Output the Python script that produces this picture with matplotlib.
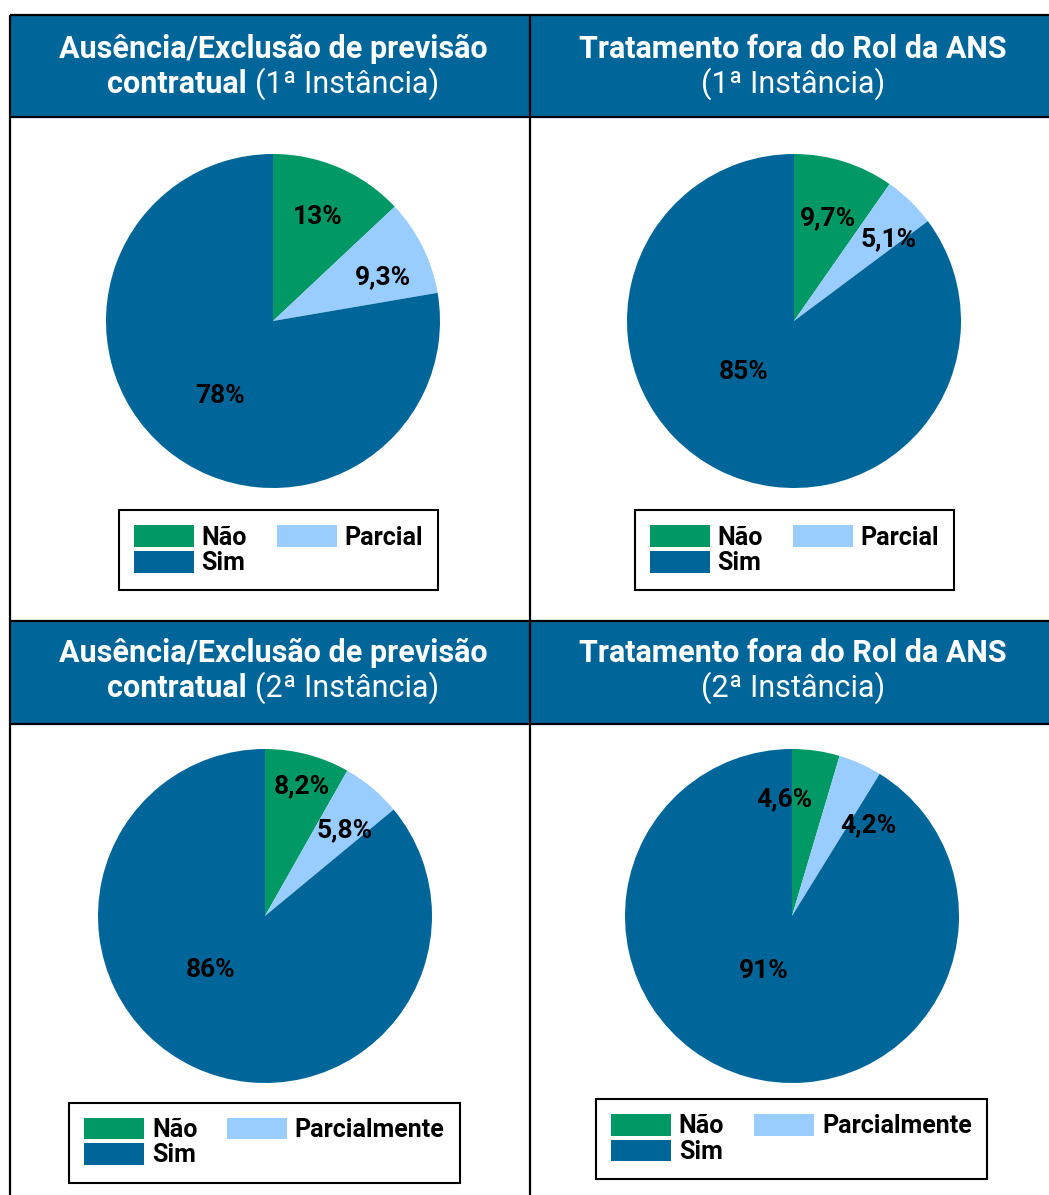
import matplotlib
matplotlib.use("Agg")
import matplotlib.pyplot as plt
from matplotlib.patches import Rectangle
import numpy as np

W, H = 1049, 1195
DPI = 100

# ---------------- data ----------------
legend_first = ["Não", "Parcial", "Sim"]
legend_second = ["Não", "Parcialmente", "Sim"]

tl_values = [13.0, 9.3, 77.7]
tl_labels = ["13%", "9,3%", "78%"]
tr_values = [9.7, 5.1, 85.2]
tr_labels = ["9,7%", "5,1%", "85%"]
bl_values = [8.2, 5.8, 86.0]
bl_labels = ["8,2%", "5,8%", "86%"]
br_values = [4.6, 4.2, 91.2]
br_labels = ["4,6%", "4,2%", "91%"]

title_line1 = ["Ausência/Exclusão de previsão", "Tratamento fora do Rol da ANS",
               "Ausência/Exclusão de previsão", "Tratamento fora do Rol da ANS"]
title_line2_bold = ["contratual", "", "contratual", ""]
title_line2_regular = ["(1ª Instância)", "(1ª Instância)", "(2ª Instância)", "(2ª Instância)"]

colors = ["#009966", "#99CCFF", "#006699"]
HEADER = "#006699"
FONT = "Roboto"

# ---------------- layout (pixels) ----------------
panels = [
    dict(values=tl_values, labels=tl_labels, legend=legend_first,
         center=(273, 321), radius=167, legend_center=(278, 550.5), title_x=273,
         baselines=(58, 93), label_r=[0.68, 0.71, 0.55], label_dt=[0, -5, 5]),
    dict(values=tr_values, labels=tr_labels, legend=legend_first,
         center=(794, 321), radius=167, legend_center=(794, 550.5), title_x=793,
         baselines=(58, 93), label_r=[0.65, 0.75, 0.43], label_dt=[-1, -5, -18]),
    dict(values=bl_values, labels=bl_labels, legend=legend_second,
         center=(265, 916), radius=167, legend_center=(264.5, 1142.5), title_x=273,
         baselines=(662, 697), label_r=[0.81, 0.70, 0.46], label_dt=[-1, -3, -20]),
    dict(values=br_values, labels=br_labels, legend=legend_second,
         center=(792, 916), radius=167, legend_center=(791.5, 1139), title_x=793,
         baselines=(662, 697), label_r=[0.70, 0.71, 0.37], label_dt=[12, -16, -11]),
]

fig = plt.figure(figsize=(W / DPI, H / DPI), dpi=DPI)
fig.patch.set_facecolor("white")

ax0 = fig.add_axes([0, 0, 1, 1])
ax0.set_xlim(0, W)
ax0.set_ylim(H, 0)
ax0.axis("off")

# headers
for y0, y1 in [(15, 117), (621, 724)]:
    ax0.add_patch(Rectangle((10, y0), W - 10, y1 - y0, facecolor=HEADER, edgecolor="none", zorder=1))

lw = 1.6
for y in [15, 117, 621, 724]:
    ax0.plot([10, W], [y, y], color="black", lw=lw, zorder=3, solid_capstyle="butt")
for x in [10, 530]:
    ax0.plot([x, x], [15, H], color="black", lw=lw, zorder=3, solid_capstyle="butt")

fig.canvas.draw()
renderer = fig.canvas.get_renderer()

TS = 22
for i, p in enumerate(panels):
    cx = p["title_x"]
    b1, b2 = p["baselines"]
    ax0.text(cx, b1, title_line1[i], ha="center", va="baseline", color="white",
             fontsize=TS, fontweight="bold", family=FONT, zorder=4)
    if title_line2_bold[i]:
        tb = ax0.text(0, b2, title_line2_bold[i], ha="left", va="baseline", color="white",
                      fontsize=TS, fontweight="bold", family=FONT, zorder=4)
        tr = ax0.text(0, b2, title_line2_regular[i], ha="left", va="baseline", color="white",
                      fontsize=TS, fontweight="normal", family=FONT, zorder=4)
        wb = tb.get_window_extent(renderer).width
        wr = tr.get_window_extent(renderer).width
        gap = 8
        x0 = cx - (wb + gap + wr) / 2
        tb.set_x(x0)
        tr.set_x(x0 + wb + gap)
    else:
        ax0.text(cx, b2, title_line2_regular[i], ha="center", va="baseline", color="white",
                 fontsize=TS, fontweight="normal", family=FONT, zorder=4)

# pies
for p in panels:
    cx, cy = p["center"]
    r = p["radius"]
    ax = fig.add_axes([(cx - r) / W, (H - cy - r) / H, 2 * r / W, 2 * r / H])
    wedges, _ = ax.pie(p["values"], colors=colors, startangle=90, counterclock=False,
                       radius=1.0, wedgeprops=dict(linewidth=0))
    ax.set_xlim(-1, 1)
    ax.set_ylim(-1, 1)
    ax.axis("off")
    for w, lab, rr, dt in zip(wedges, p["labels"], p["label_r"], p["label_dt"]):
        mid = np.deg2rad((w.theta1 + w.theta2) / 2 + dt)
        ax.text(rr * np.cos(mid), rr * np.sin(mid), lab, ha="center", va="center",
                fontsize=19, fontweight="bold", family=FONT, color="black")
    lx, ly = p["legend_center"]
    # legend columns: (Não, Sim) then (Parcial)
    order = [0, 2, 1]
    leg = fig.legend([wedges[k] for k in order], [p["legend"][k] for k in order],
                     loc="center", bbox_to_anchor=(lx / W, 1 - ly / H),
                     ncol=2, frameon=True, fancybox=False, edgecolor="black",
                     prop=dict(family=FONT, weight="bold", size=18),
                     handlelength=2.4, handleheight=0.95, handletextpad=0.3,
                     columnspacing=1.2, labelspacing=0.05, borderpad=0.6)
    leg.get_frame().set_linewidth(1.5)
    leg.get_frame().set_alpha(1)

fig.savefig("out.png", dpi=DPI, facecolor="white")
